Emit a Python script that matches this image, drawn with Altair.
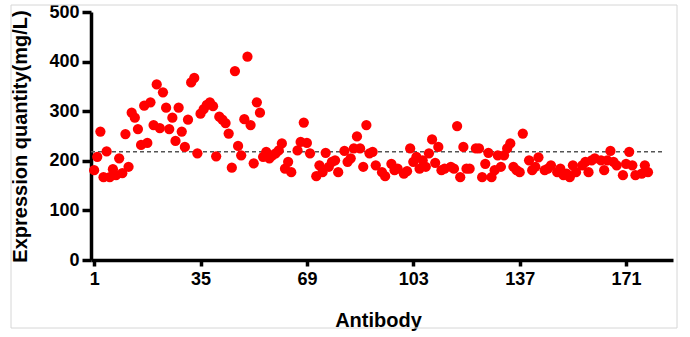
import altair as alt
import pandas as pd

# ---- data ----
antibody = [1, 2, 3, 4, 5, 6, 7, 8, 9, 10, 11, 12, 13, 14, 15, 16, 17, 18, 19, 20,
            21, 22, 23, 24, 25, 26, 27, 28, 29, 30, 31, 32, 33, 34, 35, 36, 37, 38, 39, 40,
            41, 42, 43, 44, 45, 46, 47, 48, 49, 50, 51, 52, 53, 54, 55, 56, 57, 58, 59, 60,
            61, 62, 63, 64, 66, 67, 68, 69, 70, 72, 73, 74, 75, 76, 77, 78, 79, 81, 82, 83,
            84, 85, 86, 87, 88, 89, 90, 91, 93, 94, 96, 97, 98, 100, 101, 102, 103, 104, 105, 106,
            107, 108, 109, 110, 111, 112, 113, 115, 116, 117, 118, 119, 120, 121, 123, 124, 125, 126, 127, 128,
            129, 130, 131, 132, 133, 134, 135, 136, 137, 138, 140, 141, 142, 143, 145, 146, 147, 149, 150, 151,
            152, 153, 154, 155, 157, 158, 159, 160, 161, 163, 164, 165, 166, 167, 168, 170, 171, 172, 173, 174,
            176, 177, 178]
quantity = [181, 208, 259, 167, 219, 167, 183, 171, 205, 175, 254, 188, 297, 287, 264, 232, 311, 236, 318, 272,
            354, 266, 338, 307, 264, 287, 240, 307, 259, 228, 283, 358, 367, 215, 295, 304, 313, 318, 310, 209,
            289, 283, 276, 255, 186, 381, 230, 211, 284, 410, 272, 195, 318, 297, 208, 218, 205, 211, 215, 221,
            235, 184, 198, 177, 221, 238, 277, 236, 215, 169, 191, 177, 216, 188, 198, 201, 177, 220, 198, 205,
            225, 249, 225, 188, 272, 215, 218, 191, 177, 169, 194, 181, 184, 174, 179, 225, 198, 208, 184, 201,
            188, 215, 243, 196, 228, 181, 184, 188, 184, 270, 167, 228, 184, 184, 225, 225, 167, 194, 216, 167,
            181, 211, 188, 211, 225, 235, 188, 181, 177, 255, 201, 181, 188, 207, 181, 184, 191, 177, 184, 171,
            174, 167, 191, 177, 191, 198, 177, 201, 205, 201, 181, 201, 220, 198, 191, 171, 194, 218, 191, 171,
            174, 191, 177]
ref_value = [218]
ref_start = [0]
ref_end = [183]
x_ticks = [1, 35, 69, 103, 137, 171]
y_ticks = [0, 100, 200, 300, 400, 500]
x_title = "Antibody"
y_title = "Expression quantity(mg/L)"

df = pd.DataFrame({"Antibody": antibody, "Quantity": quantity})
ref = pd.DataFrame({"x": ref_start, "x2": ref_end, "y": ref_value})

xscale = alt.Scale(domain=[0, 186], nice=False, zero=False)
yscale = alt.Scale(domain=[0, 500], nice=False)

frame = alt.Chart(pd.DataFrame({"a": [0]})).mark_rect(
    fill="transparent", stroke="#d6d6d6", strokeWidth=1
).encode(
    x=alt.value(-80), x2=alt.value(586), y=alt.value(-7), y2=alt.value(316)
)

rule = alt.Chart(ref).mark_rule(
    color="#555555", strokeWidth=1.5, strokeDash=[4, 3]
).encode(
    x=alt.X("x:Q", scale=xscale, axis=alt.Axis(values=x_ticks, title=x_title)),
    x2="x2:Q",
    y=alt.Y("y:Q", scale=yscale, axis=alt.Axis(values=y_ticks, title=y_title)),
)

points = alt.Chart(df).mark_circle(color="#ff0000", opacity=1, size=105).encode(
    x=alt.X("Antibody:Q", scale=xscale, axis=alt.Axis(values=x_ticks, title=x_title)),
    y=alt.Y("Quantity:Q", scale=yscale, axis=alt.Axis(values=y_ticks, title=y_title)),
)

chart = alt.layer(frame, rule, points).properties(
    width=582,
    height=248,
    autosize=alt.AutoSizeParams(type="none"),
    padding={"left": 91, "top": 12, "right": 17, "bottom": 77},
).configure_view(
    strokeOpacity=0
).configure_axis(
    grid=False,
    domainColor="black",
    domainWidth=3.5,
    tickColor="black",
    tickWidth=3.5,
    labelFont="Liberation Sans",
    labelFontWeight="bold",
    labelFontSize=18,
    labelColor="black",
    titleFont="Liberation Sans",
    titleFontWeight="bold",
    titleFontSize=20,
    titleColor="black",
).configure_axisX(
    tickSize=6,
    labelPadding=18,
    labelBaseline="alphabetic",
    titleX=287,
    titleY=66,
    titleAlign="center",
    titleBaseline="alphabetic",
).configure_axisY(
    tickSize=9,
    labelPadding=3,
    titleX=-71,
    titleY=124,
    titleAngle=270,
    titleAlign="center",
    titleBaseline="middle",
)

chart.save("out.html", embed_options={"renderer": "svg", "actions": False})
